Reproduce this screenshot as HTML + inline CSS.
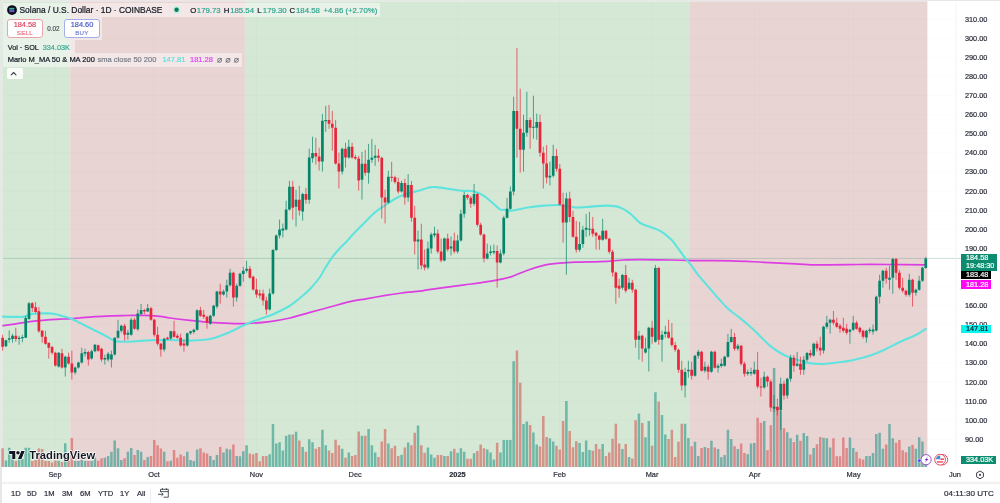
<!DOCTYPE html>
<html><head><meta charset="utf-8"><style>
*{box-sizing:border-box;margin:0;padding:0}
html,body{width:1000px;height:503px;overflow:hidden;background:#fff;font-family:"Liberation Sans",Arial,sans-serif;color:#131722}
.abs,.ohlc,.pl,.tl,.tb,.box{-webkit-text-stroke:0.2px currentColor}
#wrap{position:absolute;left:0;top:0;width:1000px;height:503px;background:#fff}
svg{position:absolute;left:0;top:0}
.pl{position:absolute;left:965px;font-size:7.3px;line-height:9px;color:#2a2e39;white-space:nowrap}
.tl{position:absolute;top:470.3px;font-size:7.4px;line-height:9px;color:#2a2e39;transform:translateX(-50%);white-space:nowrap}
.abs{position:absolute;white-space:nowrap}
.ohlc{position:absolute;top:5.9px;font-size:7.8px;line-height:9px;color:#2fa58e;white-space:nowrap}
.ind{top:55.3px;font-size:7.5px;line-height:9px;color:#131722}
.lg{position:absolute;background:rgba(255,255,255,0.45)}
.tb{position:absolute;top:489.4px;font-size:7.6px;line-height:9px;color:#2a2e39}
.box{position:absolute;left:961px;width:36px;color:#fff;font-size:7.3px;line-height:8.4px;padding-left:5px}
</style></head><body><div id="wrap">
<div class="abs" style="left:0;top:0;width:1000px;height:1.3px;background:#e6e7e6"></div>
<div class="abs" style="left:0;top:0;width:2.2px;height:503px;background:#e7e7e7"></div>
<svg width="1000" height="503" viewBox="0 0 1000 503">
<rect x="2.2" y="1.3" width="954" height="465.7" fill="#ffffff"/>
<rect x="2.2" y="1.3" width="68.01" height="465.7" fill="#d5e8d5"/>
<rect x="70.21" y="1.3" width="174.74" height="465.7" fill="#e9d4d4"/>
<rect x="244.94" y="1.3" width="445.08" height="465.7" fill="#d5e8d5"/>
<rect x="690.02" y="1.3" width="237.38" height="465.7" fill="#e9d4d4"/>
<path d="M3 439.30H956 M3 420.20H956 M3 401.10H956 M3 382.00H956 M3 362.90H956 M3 343.80H956 M3 324.70H956 M3 305.60H956 M3 286.50H956 M3 267.40H956 M3 248.30H956 M3 229.20H956 M3 210.10H956 M3 191.00H956 M3 171.90H956 M3 152.80H956 M3 133.70H956 M3 114.60H956 M3 95.50H956 M3 76.40H956 M3 57.30H956 M3 38.20H956 M3 19.10H956 M55.00 2V467 M154.00 2V467 M256.40 2V467 M355.20 2V467 M457.40 2V467 M559.50 2V467 M652.00 2V467 M754.60 2V467 M853.60 2V467" stroke="rgba(42,46,57,0.026)" stroke-width="0.7" fill="none"/>
<path d="M4.67 460.60h2.5V467h-2.5ZM7.96 447.80h2.5V467h-2.5ZM11.26 452.00h2.5V467h-2.5ZM17.85 458.00h2.5V467h-2.5ZM21.15 459.00h2.5V467h-2.5ZM24.45 447.80h2.5V467h-2.5ZM27.74 447.80h2.5V467h-2.5ZM57.42 460.80h2.5V467h-2.5ZM64.01 443.20h2.5V467h-2.5ZM73.90 461.00h2.5V467h-2.5ZM77.20 461.00h2.5V467h-2.5ZM80.50 460.00h2.5V467h-2.5ZM83.79 461.00h2.5V467h-2.5ZM90.39 461.00h2.5V467h-2.5ZM93.68 457.70h2.5V467h-2.5ZM103.57 457.70h2.5V467h-2.5ZM106.87 455.90h2.5V467h-2.5ZM110.17 451.80h2.5V467h-2.5ZM113.46 440.40h2.5V467h-2.5ZM116.76 448.20h2.5V467h-2.5ZM120.06 460.10h2.5V467h-2.5ZM126.65 451.80h2.5V467h-2.5ZM129.95 447.90h2.5V467h-2.5ZM136.54 450.00h2.5V467h-2.5ZM139.84 451.80h2.5V467h-2.5ZM146.43 457.10h2.5V467h-2.5ZM162.92 451.80h2.5V467h-2.5ZM169.51 460.70h2.5V467h-2.5ZM186.00 451.80h2.5V467h-2.5ZM189.29 460.00h2.5V467h-2.5ZM192.59 461.00h2.5V467h-2.5ZM195.89 449.40h2.5V467h-2.5ZM209.07 455.90h2.5V467h-2.5ZM212.37 460.10h2.5V467h-2.5ZM215.67 455.10h2.5V467h-2.5ZM222.26 452.40h2.5V467h-2.5ZM225.56 448.80h2.5V467h-2.5ZM228.86 449.40h2.5V467h-2.5ZM235.45 455.90h2.5V467h-2.5ZM238.75 456.30h2.5V467h-2.5ZM242.04 451.20h2.5V467h-2.5ZM245.34 445.20h2.5V467h-2.5ZM268.42 454.20h2.5V467h-2.5ZM271.72 424.10h2.5V467h-2.5ZM275.01 443.40h2.5V467h-2.5ZM278.31 442.20h2.5V467h-2.5ZM281.61 450.60h2.5V467h-2.5ZM284.90 435.70h2.5V467h-2.5ZM288.20 434.50h2.5V467h-2.5ZM294.79 431.70h2.5V467h-2.5ZM301.39 447.00h2.5V467h-2.5ZM307.98 439.20h2.5V467h-2.5ZM311.28 442.20h2.5V467h-2.5ZM321.17 429.70h2.5V467h-2.5ZM324.47 445.20h2.5V467h-2.5ZM340.95 448.80h2.5V467h-2.5ZM347.54 452.40h2.5V467h-2.5ZM360.73 435.70h2.5V467h-2.5ZM367.33 429.10h2.5V467h-2.5ZM370.62 445.20h2.5V467h-2.5ZM373.92 452.40h2.5V467h-2.5ZM387.11 443.40h2.5V467h-2.5ZM400.29 454.70h2.5V467h-2.5ZM406.89 442.50h2.5V467h-2.5ZM416.78 425.50h2.5V467h-2.5ZM426.67 447.60h2.5V467h-2.5ZM429.97 454.40h2.5V467h-2.5ZM433.26 457.70h2.5V467h-2.5ZM443.15 455.90h2.5V467h-2.5ZM449.75 451.20h2.5V467h-2.5ZM456.34 452.70h2.5V467h-2.5ZM459.64 448.20h2.5V467h-2.5ZM462.94 451.80h2.5V467h-2.5ZM472.83 453.20h2.5V467h-2.5ZM486.01 449.50h2.5V467h-2.5ZM489.31 452.50h2.5V467h-2.5ZM492.61 459.40h2.5V467h-2.5ZM499.20 452.50h2.5V467h-2.5ZM502.50 440.00h2.5V467h-2.5ZM505.80 440.00h2.5V467h-2.5ZM509.09 440.00h2.5V467h-2.5ZM512.39 361.20h2.5V467h-2.5ZM522.28 424.10h2.5V467h-2.5ZM525.58 421.60h2.5V467h-2.5ZM532.17 432.60h2.5V467h-2.5ZM535.47 444.50h2.5V467h-2.5ZM548.65 438.30h2.5V467h-2.5ZM551.95 441.50h2.5V467h-2.5ZM565.14 401.00h2.5V467h-2.5ZM578.33 443.00h2.5V467h-2.5ZM581.62 451.90h2.5V467h-2.5ZM584.92 440.50h2.5V467h-2.5ZM588.22 450.10h2.5V467h-2.5ZM601.41 443.90h2.5V467h-2.5ZM621.19 448.90h2.5V467h-2.5ZM627.78 456.90h2.5V467h-2.5ZM637.67 413.60h2.5V467h-2.5ZM644.27 437.20h2.5V467h-2.5ZM647.56 421.10h2.5V467h-2.5ZM654.16 392.20h2.5V467h-2.5ZM660.75 414.90h2.5V467h-2.5ZM664.05 434.60h2.5V467h-2.5ZM683.83 423.80h2.5V467h-2.5ZM687.12 438.10h2.5V467h-2.5ZM693.72 441.70h2.5V467h-2.5ZM697.02 456.00h2.5V467h-2.5ZM703.61 447.10h2.5V467h-2.5ZM710.20 440.80h2.5V467h-2.5ZM716.80 448.90h2.5V467h-2.5ZM720.09 457.30h2.5V467h-2.5ZM723.39 455.10h2.5V467h-2.5ZM726.69 429.70h2.5V467h-2.5ZM729.98 439.00h2.5V467h-2.5ZM736.58 448.90h2.5V467h-2.5ZM746.47 454.20h2.5V467h-2.5ZM749.77 443.50h2.5V467h-2.5ZM753.06 443.00h2.5V467h-2.5ZM762.95 421.00h2.5V467h-2.5ZM772.84 367.90h2.5V467h-2.5ZM779.44 410.90h2.5V467h-2.5ZM786.03 432.30h2.5V467h-2.5ZM789.33 438.30h2.5V467h-2.5ZM795.92 434.70h2.5V467h-2.5ZM802.52 433.10h2.5V467h-2.5ZM805.81 435.90h2.5V467h-2.5ZM812.41 447.90h2.5V467h-2.5ZM822.30 437.80h2.5V467h-2.5ZM825.59 438.30h2.5V467h-2.5ZM828.89 447.40h2.5V467h-2.5ZM848.67 437.50h2.5V467h-2.5ZM851.97 448.00h2.5V467h-2.5ZM865.16 455.90h2.5V467h-2.5ZM868.45 455.90h2.5V467h-2.5ZM871.75 453.10h2.5V467h-2.5ZM875.05 434.10h2.5V467h-2.5ZM878.35 432.70h2.5V467h-2.5ZM881.64 448.70h2.5V467h-2.5ZM888.24 423.90h2.5V467h-2.5ZM891.53 438.20h2.5V467h-2.5ZM908.02 446.60h2.5V467h-2.5ZM914.61 448.70h2.5V467h-2.5ZM917.91 437.30h2.5V467h-2.5ZM921.20 441.40h2.5V467h-2.5ZM924.50 458.00h2.5V467h-2.5Z" fill="rgba(6,136,122,0.5)"/>
<path d="M1.37 448.30h2.5V467h-2.5ZM14.56 461.00h2.5V467h-2.5ZM31.04 461.00h2.5V467h-2.5ZM34.34 460.00h2.5V467h-2.5ZM37.64 448.50h2.5V467h-2.5ZM40.93 449.00h2.5V467h-2.5ZM44.23 461.00h2.5V467h-2.5ZM47.53 461.00h2.5V467h-2.5ZM50.82 462.50h2.5V467h-2.5ZM54.12 460.50h2.5V467h-2.5ZM60.71 462.00h2.5V467h-2.5ZM67.31 461.00h2.5V467h-2.5ZM70.60 438.00h2.5V467h-2.5ZM87.09 461.00h2.5V467h-2.5ZM96.98 460.70h2.5V467h-2.5ZM100.28 458.30h2.5V467h-2.5ZM123.35 458.30h2.5V467h-2.5ZM133.25 455.10h2.5V467h-2.5ZM143.14 460.10h2.5V467h-2.5ZM149.73 455.90h2.5V467h-2.5ZM153.03 440.10h2.5V467h-2.5ZM156.32 445.20h2.5V467h-2.5ZM159.62 448.40h2.5V467h-2.5ZM166.21 461.30h2.5V467h-2.5ZM172.81 450.00h2.5V467h-2.5ZM176.11 457.70h2.5V467h-2.5ZM179.40 454.40h2.5V467h-2.5ZM182.70 456.30h2.5V467h-2.5ZM199.18 448.20h2.5V467h-2.5ZM202.48 452.40h2.5V467h-2.5ZM205.78 453.60h2.5V467h-2.5ZM218.97 447.00h2.5V467h-2.5ZM232.15 444.60h2.5V467h-2.5ZM248.64 453.60h2.5V467h-2.5ZM251.93 454.20h2.5V467h-2.5ZM255.23 453.00h2.5V467h-2.5ZM258.53 461.30h2.5V467h-2.5ZM261.82 455.90h2.5V467h-2.5ZM265.12 455.90h2.5V467h-2.5ZM291.50 434.50h2.5V467h-2.5ZM298.09 440.40h2.5V467h-2.5ZM304.68 451.80h2.5V467h-2.5ZM314.58 448.80h2.5V467h-2.5ZM317.87 447.00h2.5V467h-2.5ZM327.76 450.60h2.5V467h-2.5ZM331.06 453.00h2.5V467h-2.5ZM334.36 439.80h2.5V467h-2.5ZM337.65 445.20h2.5V467h-2.5ZM344.25 457.70h2.5V467h-2.5ZM350.84 455.90h2.5V467h-2.5ZM354.14 455.10h2.5V467h-2.5ZM357.43 431.50h2.5V467h-2.5ZM364.03 435.70h2.5V467h-2.5ZM377.22 457.10h2.5V467h-2.5ZM380.51 441.60h2.5V467h-2.5ZM383.81 429.10h2.5V467h-2.5ZM390.40 448.20h2.5V467h-2.5ZM393.70 445.80h2.5V467h-2.5ZM397.00 455.90h2.5V467h-2.5ZM403.59 447.60h2.5V467h-2.5ZM410.19 445.20h2.5V467h-2.5ZM413.48 432.70h2.5V467h-2.5ZM420.08 445.20h2.5V467h-2.5ZM423.37 452.70h2.5V467h-2.5ZM436.56 455.10h2.5V467h-2.5ZM439.86 455.10h2.5V467h-2.5ZM446.45 455.90h2.5V467h-2.5ZM453.04 448.80h2.5V467h-2.5ZM466.23 458.70h2.5V467h-2.5ZM469.53 458.70h2.5V467h-2.5ZM476.12 451.00h2.5V467h-2.5ZM479.42 444.50h2.5V467h-2.5ZM482.72 448.20h2.5V467h-2.5ZM495.90 442.80h2.5V467h-2.5ZM515.69 350.50h2.5V467h-2.5ZM518.98 382.80h2.5V467h-2.5ZM528.87 425.10h2.5V467h-2.5ZM538.76 446.50h2.5V467h-2.5ZM542.06 415.90h2.5V467h-2.5ZM545.36 437.00h2.5V467h-2.5ZM555.25 445.70h2.5V467h-2.5ZM558.55 449.50h2.5V467h-2.5ZM561.84 420.90h2.5V467h-2.5ZM568.44 431.00h2.5V467h-2.5ZM571.73 447.30h2.5V467h-2.5ZM575.03 441.20h2.5V467h-2.5ZM591.51 450.70h2.5V467h-2.5ZM594.81 443.90h2.5V467h-2.5ZM598.11 448.90h2.5V467h-2.5ZM604.70 456.00h2.5V467h-2.5ZM608.00 452.50h2.5V467h-2.5ZM611.30 438.70h2.5V467h-2.5ZM614.59 423.80h2.5V467h-2.5ZM617.89 443.50h2.5V467h-2.5ZM624.48 443.90h2.5V467h-2.5ZM631.08 458.40h2.5V467h-2.5ZM634.37 420.30h2.5V467h-2.5ZM640.97 422.90h2.5V467h-2.5ZM650.86 445.80h2.5V467h-2.5ZM657.45 401.50h2.5V467h-2.5ZM667.34 439.00h2.5V467h-2.5ZM670.64 429.70h2.5V467h-2.5ZM673.94 456.90h2.5V467h-2.5ZM677.23 441.70h2.5V467h-2.5ZM680.53 423.80h2.5V467h-2.5ZM690.42 446.20h2.5V467h-2.5ZM700.31 448.00h2.5V467h-2.5ZM706.91 448.00h2.5V467h-2.5ZM713.50 447.60h2.5V467h-2.5ZM733.28 446.20h2.5V467h-2.5ZM739.88 443.50h2.5V467h-2.5ZM743.17 453.00h2.5V467h-2.5ZM756.36 417.80h2.5V467h-2.5ZM759.66 422.70h2.5V467h-2.5ZM766.25 450.20h2.5V467h-2.5ZM769.55 425.20h2.5V467h-2.5ZM776.14 407.30h2.5V467h-2.5ZM782.73 428.30h2.5V467h-2.5ZM792.63 441.90h2.5V467h-2.5ZM799.22 440.70h2.5V467h-2.5ZM809.11 454.50h2.5V467h-2.5ZM815.70 444.30h2.5V467h-2.5ZM819.00 437.10h2.5V467h-2.5ZM832.19 438.30h2.5V467h-2.5ZM835.49 456.20h2.5V467h-2.5ZM838.78 456.20h2.5V467h-2.5ZM842.08 437.50h2.5V467h-2.5ZM845.38 448.00h2.5V467h-2.5ZM855.27 451.70h2.5V467h-2.5ZM858.56 458.40h2.5V467h-2.5ZM861.86 459.50h2.5V467h-2.5ZM884.94 444.50h2.5V467h-2.5ZM894.83 442.80h2.5V467h-2.5ZM898.13 440.10h2.5V467h-2.5ZM901.42 450.30h2.5V467h-2.5ZM904.72 452.20h2.5V467h-2.5ZM911.31 444.80h2.5V467h-2.5Z" fill="rgba(212,62,60,0.5)"/>
<line x1="3" y1="258.4" x2="961" y2="258.4" stroke="rgba(60,140,120,0.4)" stroke-width="0.7"/>
<path d="M3.0 325.7 C5.2 325.4 11.2 324.5 16.0 323.8 C20.8 323.1 26.7 322.1 32.0 321.4 C37.3 320.7 42.7 320.2 48.0 319.8 C53.3 319.4 60.0 319.2 64.0 319.0 C68.0 318.8 69.3 318.9 72.0 318.7 C74.7 318.5 76.0 318.2 80.0 317.9 C84.0 317.5 90.7 317.0 96.0 316.6 C101.3 316.2 106.7 316.0 112.0 315.8 C117.3 315.6 122.7 315.6 128.0 315.5 C133.3 315.4 138.7 315.2 144.0 315.3 C149.3 315.4 155.7 315.9 160.0 316.3 C164.3 316.8 165.0 317.3 170.0 318.0 C175.0 318.7 183.3 319.7 190.0 320.4 C196.7 321.1 203.3 321.9 210.0 322.4 C216.7 322.9 224.0 323.2 230.0 323.4 C236.0 323.6 239.3 323.9 246.0 323.6 C252.7 323.3 262.7 322.5 270.0 321.6 C277.3 320.7 283.3 319.5 290.0 318.0 C296.7 316.5 303.3 314.2 310.0 312.4 C316.7 310.6 323.3 308.8 330.0 307.0 C336.7 305.2 344.0 303.0 350.0 301.6 C356.0 300.2 360.3 299.8 366.0 298.8 C371.7 297.8 378.0 296.7 384.0 295.7 C390.0 294.7 396.0 293.8 402.0 293.0 C408.0 292.2 415.2 291.8 420.0 291.2 C424.8 290.6 423.7 290.3 430.8 289.3 C437.9 288.3 454.4 286.2 462.6 285.1 C470.8 284.0 473.9 283.8 480.0 282.9 C486.1 282.0 493.7 280.8 499.0 279.7 C504.3 278.6 507.0 278.2 511.8 276.6 C516.6 275.0 522.4 272.1 527.7 270.2 C533.0 268.3 538.3 266.6 543.6 265.4 C548.9 264.2 554.2 263.7 559.5 263.2 C564.8 262.7 567.4 262.5 575.4 262.2 C583.4 261.9 599.2 261.7 607.2 261.3 C615.2 260.9 617.8 260.3 623.1 260.0 C628.4 259.7 631.0 259.7 639.0 259.7 C647.0 259.7 660.6 259.9 670.8 260.0 C681.0 260.1 689.8 260.5 700.0 260.6 C710.2 260.7 721.2 260.5 731.8 260.8 C742.4 261.1 753.0 261.8 763.6 262.3 C774.2 262.8 787.5 263.5 795.4 263.9 C803.3 264.3 806.0 264.6 811.3 264.8 C816.6 265.0 819.2 264.9 827.2 264.8 C835.2 264.8 848.4 264.6 859.0 264.5 C869.6 264.4 879.7 264.4 890.8 264.5 C901.9 264.6 920.0 264.8 925.8 264.9" stroke="#dc3ee2" stroke-width="1.7" fill="none" stroke-linejoin="round" stroke-linecap="round"/>
<path d="M3.0 316.6 C5.2 316.7 12.5 316.9 16.0 316.9 C19.5 316.9 21.3 317.1 24.0 316.6 C26.7 316.1 29.3 314.4 32.0 313.9 C34.7 313.4 37.3 313.5 40.0 313.4 C42.7 313.3 45.3 313.3 48.0 313.4 C50.7 313.5 53.3 313.7 56.0 314.2 C58.7 314.7 61.3 315.8 64.0 316.6 C66.7 317.4 69.3 317.9 72.0 319.0 C74.7 320.1 77.3 321.7 80.0 323.0 C82.7 324.3 85.3 325.7 88.0 327.0 C90.7 328.3 93.3 329.7 96.0 331.0 C98.7 332.3 101.3 333.6 104.0 335.0 C106.7 336.4 109.9 338.4 112.0 339.5 C114.1 340.6 114.1 341.0 116.8 341.4 C119.5 341.8 123.5 341.8 128.0 341.7 C132.5 341.6 139.7 340.9 144.0 340.6 C148.3 340.3 149.3 340.2 153.6 340.1 C157.9 340.0 163.9 339.9 170.0 340.0 C176.1 340.1 183.3 340.8 190.0 340.6 C196.7 340.4 203.3 340.4 210.0 339.0 C216.7 337.6 225.0 334.0 230.0 332.0 C235.0 330.0 236.7 328.6 240.0 327.0 C243.3 325.4 246.7 323.7 250.0 322.4 C253.3 321.1 256.7 320.1 260.0 319.0 C263.3 317.9 266.7 316.9 270.0 315.6 C273.3 314.3 276.7 312.7 280.0 311.0 C283.3 309.3 286.7 307.8 290.0 305.6 C293.3 303.4 296.7 300.8 300.0 298.0 C303.3 295.2 306.7 292.5 310.0 289.0 C313.3 285.5 317.7 280.2 320.0 277.0 C322.3 273.8 322.0 273.2 324.0 270.0 C326.0 266.8 329.4 261.3 331.8 257.9 C334.2 254.5 336.4 252.1 338.7 249.5 C341.0 246.9 343.8 244.5 345.7 242.5 C347.6 240.5 348.8 239.0 350.0 237.7 C351.2 236.4 350.5 236.8 352.8 234.5 C355.1 232.2 360.1 227.2 363.7 223.6 C367.3 219.9 371.0 215.7 374.7 212.6 C378.4 209.5 382.0 207.4 385.6 205.0 C389.2 202.6 392.9 199.9 396.5 198.0 C400.1 196.1 403.9 194.8 407.5 193.6 C411.1 192.4 414.8 191.8 418.4 190.8 C422.0 189.8 426.4 188.1 429.3 187.5 C432.2 186.9 432.2 186.8 435.9 187.1 C439.5 187.4 446.8 188.6 451.2 189.2 C455.6 189.8 458.5 190.5 462.1 190.8 C465.8 191.1 469.5 190.4 473.1 191.2 C476.8 192.0 480.4 193.5 484.0 195.8 C487.6 198.1 492.2 202.7 494.9 205.0 C497.6 207.3 498.2 208.6 500.0 209.4 C501.8 210.2 503.4 209.6 505.4 209.8 C507.4 210.0 508.1 211.1 511.8 210.7 C515.5 210.3 522.4 208.3 527.7 207.5 C533.0 206.7 538.3 206.0 543.6 205.6 C548.9 205.2 554.2 204.7 559.5 205.0 C564.8 205.3 570.1 207.2 575.4 207.5 C580.7 207.8 586.0 206.9 591.3 206.6 C596.6 206.3 602.4 205.5 607.2 205.6 C612.0 205.7 616.2 206.1 620.0 207.4 C623.8 208.7 626.7 210.9 630.1 213.5 C633.5 216.1 636.9 220.8 640.3 223.0 C643.7 225.2 647.0 225.7 650.4 227.0 C653.8 228.3 657.1 229.1 660.5 231.1 C663.9 233.1 667.9 236.2 670.7 238.9 C673.5 241.6 675.1 244.3 677.4 247.3 C679.6 250.3 682.0 253.9 684.2 256.8 C686.5 259.7 688.6 262.0 690.9 264.9 C693.1 267.8 694.9 270.8 697.7 274.3 C700.5 277.8 704.4 282.2 707.8 286.1 C711.2 290.1 714.6 294.2 718.0 298.0 C721.4 301.8 724.7 305.7 728.1 308.8 C731.5 311.9 734.8 313.9 738.2 316.6 C741.6 319.3 745.0 322.0 748.4 325.0 C751.8 328.0 755.1 331.2 758.5 334.5 C761.9 337.8 765.2 341.7 768.6 344.6 C772.0 347.5 775.4 349.9 778.8 352.0 C782.2 354.1 785.4 355.7 788.9 357.1 C792.4 358.5 797.3 359.6 800.0 360.5 C802.7 361.4 801.5 361.9 805.0 362.5 C808.5 363.1 815.6 364.0 820.9 364.0 C826.2 364.0 831.5 363.1 836.8 362.5 C842.1 361.9 847.4 361.3 852.7 360.2 C858.0 359.1 863.3 357.9 868.6 356.1 C873.9 354.4 879.2 352.1 884.5 349.7 C889.8 347.3 895.1 344.3 900.4 341.8 C905.7 339.3 912.1 336.9 916.3 334.8 C920.5 332.7 924.2 330.0 925.8 329.0" stroke="#5fe3de" stroke-width="2.1" fill="none" stroke-linejoin="round" stroke-linecap="round"/>
<path d="M5.92 339.70V347.10M9.21 330.40V342.70M12.51 333.80V342.70M19.10 335.80V344.70M22.40 334.80V342.30M25.70 315.90V337.70M28.99 302.00V319.90M58.67 352.00V367.60M65.26 355.70V376.50M75.15 366.60V374.60M78.45 361.60V368.60M81.75 347.70V363.60M85.04 348.70V356.70M91.64 349.70V359.60M94.93 344.10V352.10M104.82 354.70V364.60M108.12 352.00V361.60M111.42 350.60V367.50M114.71 337.30V355.60M118.01 319.80V338.70M121.31 324.80V332.70M127.90 329.80V339.70M131.20 317.80V335.70M137.79 309.40V330.80M141.09 303.90V314.90M147.68 303.90V311.90M164.17 337.70V351.60M170.76 330.70V339.60M187.25 332.70V346.60M190.54 330.70V334.70M193.84 328.70V333.70M197.14 309.40V330.70M210.32 314.80V324.70M213.62 304.80V316.80M216.92 290.90V308.50M223.51 289.60V295.60M226.81 279.70V297.60M230.11 268.80V286.70M236.70 283.70V301.60M240.00 272.70V286.70M243.29 266.80V281.70M246.59 260.80V272.70M269.67 288.60V310.50M272.97 248.90V294.60M276.26 234.50V251.00M279.56 219.60V238.50M282.86 223.60V237.50M286.15 200.70V230.50M289.45 180.80V210.60M296.04 189.80V226.50M302.64 192.70V220.60M309.23 148.70V203.70M312.53 136.70V162.60M322.42 113.90V171.50M325.72 105.90V131.80M342.20 147.70V174.50M348.79 139.70V158.60M361.98 151.90V199.60M368.58 143.90V183.70M371.87 138.90V162.80M375.17 144.90V165.80M388.36 170.70V203.60M401.54 180.70V192.60M408.14 174.00V201.80M418.03 230.60V269.40M427.92 241.60V269.40M431.22 232.60V253.50M434.51 226.70V237.60M444.40 237.60V261.50M451.00 236.60V255.50M457.59 235.00V253.50M460.89 209.80V241.60M464.19 191.90V217.70M474.08 183.90V205.80M487.26 243.60V259.50M490.56 245.50V255.50M493.86 244.50V254.50M500.45 249.50V263.40M503.75 215.70V255.50M507.05 197.80V218.70M510.34 186.50V209.80M513.64 96.70V195.40M523.53 114.60V171.60M526.83 91.70V136.80M533.42 95.70V138.80M536.72 113.60V139.80M549.90 161.70V185.50M553.20 144.70V177.50M566.39 192.70V274.60M579.58 221.90V251.70M582.87 225.80V247.70M586.17 213.90V236.80M589.47 211.90V235.80M602.66 218.90V240.80M622.44 273.90V289.80M629.03 277.80V289.80M638.92 330.80V359.60M645.52 337.70V353.60M648.81 326.80V371.50M655.41 264.90V342.70M662.00 330.70V361.60M665.30 325.80V337.70M685.08 367.70V397.50M688.37 360.80V377.70M694.97 354.80V376.70M698.27 349.80V358.80M704.86 361.70V372.70M711.45 350.80V372.70M718.05 363.70V372.70M721.34 358.80V367.70M724.64 355.80V366.70M727.94 333.90V357.80M731.23 328.90V342.90M737.83 343.90V350.80M747.72 369.70V375.70M751.02 367.70V375.70M754.31 361.70V374.70M764.20 371.70V388.60M774.09 395.00V412.00M780.69 377.70V430.00M787.28 377.70V398.60M790.58 354.80V381.70M797.17 351.90V366.80M803.77 355.80V374.70M807.06 351.90V361.80M813.66 342.70V356.60M823.55 325.80V353.60M826.84 315.80V328.80M830.14 318.80V333.70M849.92 328.80V343.70M853.22 315.80V330.80M866.41 329.80V342.70M869.70 327.50V333.50M873.00 324.50V334.50M876.30 295.70V331.50M879.60 274.80V303.60M882.89 269.80V287.70M889.49 265.80V289.70M892.78 257.90V293.70M909.27 273.80V296.70M915.86 288.70V295.70M919.16 275.80V290.70M922.45 266.80V281.80M925.75 256.80V268.70" stroke="#06846a" stroke-width="0.7" fill="none"/>
<path d="M4.57 340.30h2.7v6.00h-2.7ZM7.86 338.30h2.7v1.40h-2.7ZM11.16 335.80h2.7v3.30h-2.7ZM17.75 337.70h2.7v1.40h-2.7ZM21.05 337.10h2.7v1.20h-2.7ZM24.35 317.90h2.7v19.80h-2.7ZM27.64 303.30h2.7v15.60h-2.7ZM57.32 352.70h2.7v13.90h-2.7ZM63.91 356.70h2.7v10.90h-2.7ZM73.80 367.60h2.7v5.00h-2.7ZM77.10 362.60h2.7v5.00h-2.7ZM80.40 353.30h2.7v9.30h-2.7ZM83.69 352.00h2.7v1.70h-2.7ZM90.29 351.30h2.7v7.30h-2.7ZM93.58 344.70h2.7v6.60h-2.7ZM103.47 358.00h2.7v1.60h-2.7ZM106.77 353.70h2.7v5.90h-2.7ZM110.07 354.60h2.7v5.00h-2.7ZM113.36 337.70h2.7v16.90h-2.7ZM116.66 330.80h2.7v6.90h-2.7ZM119.96 325.80h2.7v5.00h-2.7ZM126.55 332.70h2.7v2.00h-2.7ZM129.85 319.80h2.7v14.90h-2.7ZM136.44 313.50h2.7v15.80h-2.7ZM139.74 309.90h2.7v4.00h-2.7ZM146.33 308.30h2.7v3.20h-2.7ZM162.82 338.70h2.7v10.90h-2.7ZM169.41 331.30h2.7v7.30h-2.7ZM185.90 333.30h2.7v12.30h-2.7ZM189.19 331.30h2.7v2.00h-2.7ZM192.49 329.70h2.7v2.40h-2.7ZM195.79 310.20h2.7v19.50h-2.7ZM208.97 315.80h2.7v7.90h-2.7ZM212.27 305.80h2.7v10.00h-2.7ZM215.57 291.60h2.7v14.90h-2.7ZM222.16 291.60h2.7v3.00h-2.7ZM225.46 285.30h2.7v6.30h-2.7ZM228.76 272.70h2.7v12.60h-2.7ZM235.35 285.70h2.7v11.90h-2.7ZM238.65 273.70h2.7v12.00h-2.7ZM241.94 270.80h2.7v3.30h-2.7ZM245.24 268.80h2.7v2.00h-2.7ZM268.32 293.60h2.7v15.90h-2.7ZM271.62 249.90h2.7v43.70h-2.7ZM274.91 235.50h2.7v14.50h-2.7ZM278.21 229.50h2.7v6.00h-2.7ZM281.51 228.50h2.7v2.00h-2.7ZM284.80 209.60h2.7v19.90h-2.7ZM288.10 186.80h2.7v22.80h-2.7ZM294.69 199.70h2.7v7.00h-2.7ZM301.29 194.10h2.7v17.50h-2.7ZM307.88 157.60h2.7v42.10h-2.7ZM311.18 153.00h2.7v5.20h-2.7ZM321.07 120.80h2.7v40.80h-2.7ZM324.37 119.90h2.7v1.30h-2.7ZM340.85 148.70h2.7v22.80h-2.7ZM347.44 146.70h2.7v10.90h-2.7ZM360.63 163.80h2.7v15.90h-2.7ZM367.23 159.80h2.7v12.90h-2.7ZM370.52 157.80h2.7v2.00h-2.7ZM373.82 155.80h2.7v2.00h-2.7ZM387.01 176.70h2.7v25.90h-2.7ZM400.19 182.90h2.7v8.70h-2.7ZM406.79 184.90h2.7v12.70h-2.7ZM416.68 239.60h2.7v2.00h-2.7ZM426.57 248.50h2.7v18.90h-2.7ZM429.87 234.60h2.7v13.90h-2.7ZM433.16 233.60h2.7v1.60h-2.7ZM443.05 238.60h2.7v21.90h-2.7ZM449.65 246.50h2.7v2.00h-2.7ZM456.24 240.60h2.7v10.90h-2.7ZM459.54 213.70h2.7v26.90h-2.7ZM462.84 194.90h2.7v18.80h-2.7ZM472.73 193.90h2.7v9.90h-2.7ZM485.91 253.50h2.7v5.00h-2.7ZM489.21 251.50h2.7v1.60h-2.7ZM492.51 251.10h2.7v1.40h-2.7ZM499.10 253.50h2.7v8.90h-2.7ZM502.40 217.70h2.7v35.80h-2.7ZM505.70 208.80h2.7v8.90h-2.7ZM508.99 191.50h2.7v17.30h-2.7ZM512.29 110.90h2.7v80.60h-2.7ZM522.18 132.80h2.7v16.90h-2.7ZM525.48 119.90h2.7v12.90h-2.7ZM532.07 126.80h2.7v1.00h-2.7ZM535.37 121.90h2.7v5.90h-2.7ZM548.55 175.80h2.7v1.60h-2.7ZM551.85 155.90h2.7v19.90h-2.7ZM565.04 198.60h2.7v23.90h-2.7ZM578.23 244.10h2.7v5.60h-2.7ZM581.52 229.80h2.7v14.30h-2.7ZM584.82 227.80h2.7v2.00h-2.7ZM588.12 228.80h2.7v1.00h-2.7ZM601.31 230.80h2.7v9.00h-2.7ZM621.09 274.90h2.7v12.90h-2.7ZM627.68 282.80h2.7v6.00h-2.7ZM637.57 335.70h2.7v4.00h-2.7ZM644.17 348.60h2.7v4.00h-2.7ZM647.46 327.80h2.7v20.80h-2.7ZM654.06 267.90h2.7v73.80h-2.7ZM660.65 334.70h2.7v5.00h-2.7ZM663.95 331.70h2.7v2.40h-2.7ZM683.73 372.10h2.7v13.50h-2.7ZM687.02 369.70h2.7v1.60h-2.7ZM693.62 355.80h2.7v19.90h-2.7ZM696.92 351.80h2.7v4.00h-2.7ZM703.51 366.70h2.7v4.00h-2.7ZM710.10 351.80h2.7v19.90h-2.7ZM716.70 365.70h2.7v2.00h-2.7ZM719.99 363.70h2.7v2.40h-2.7ZM723.29 356.80h2.7v8.90h-2.7ZM726.59 341.90h2.7v14.90h-2.7ZM729.88 336.90h2.7v5.00h-2.7ZM736.48 345.80h2.7v3.00h-2.7ZM746.37 372.10h2.7v1.60h-2.7ZM749.67 372.00h2.7v1.50h-2.7ZM752.96 369.70h2.7v4.00h-2.7ZM762.85 376.70h2.7v10.90h-2.7ZM772.74 406.70h2.7v2.00h-2.7ZM779.34 383.70h2.7v26.60h-2.7ZM785.93 378.70h2.7v16.90h-2.7ZM789.23 357.80h2.7v20.90h-2.7ZM795.82 363.80h2.7v2.00h-2.7ZM802.42 359.80h2.7v10.00h-2.7ZM805.71 352.90h2.7v6.90h-2.7ZM812.31 343.70h2.7v11.70h-2.7ZM822.20 326.80h2.7v23.80h-2.7ZM825.49 322.80h2.7v4.00h-2.7ZM828.79 319.80h2.7v3.00h-2.7ZM848.57 329.80h2.7v1.90h-2.7ZM851.87 322.80h2.7v7.00h-2.7ZM865.06 330.80h2.7v6.60h-2.7ZM868.35 329.80h2.7v1.20h-2.7ZM871.65 329.50h2.7v2.00h-2.7ZM874.95 296.70h2.7v33.80h-2.7ZM878.25 280.80h2.7v15.90h-2.7ZM881.54 270.80h2.7v10.00h-2.7ZM888.14 277.80h2.7v2.00h-2.7ZM891.43 258.90h2.7v18.90h-2.7ZM907.92 279.80h2.7v14.90h-2.7ZM914.51 289.70h2.7v3.00h-2.7ZM917.81 280.80h2.7v8.90h-2.7ZM921.10 267.80h2.7v13.00h-2.7ZM924.40 258.60h2.7v9.30h-2.7Z" fill="#06846a"/>
<path d="M2.62 334.80V350.70M15.81 327.80V341.70M32.29 302.00V311.90M35.59 302.00V312.90M38.89 306.90V332.80M42.18 329.80V342.70M45.48 330.80V344.70M48.78 342.70V358.60M52.07 345.70V354.60M55.37 351.70V366.60M61.96 348.70V368.60M68.56 352.70V364.60M71.85 350.70V379.50M88.34 350.70V365.60M98.23 344.70V351.70M101.53 347.70V361.60M124.60 323.80V340.70M134.50 317.80V329.80M144.39 308.90V313.90M150.98 306.90V320.80M154.28 318.80V336.70M157.57 326.80V345.70M160.87 342.70V356.60M167.46 336.70V339.60M174.06 320.80V337.70M177.36 333.70V338.70M180.65 333.70V346.60M183.95 339.60V351.60M200.43 306.80V316.80M203.73 309.80V318.80M207.03 315.80V328.70M220.22 283.70V303.60M233.40 271.70V306.50M249.89 265.80V278.70M253.18 275.70V290.60M256.48 278.70V297.60M259.78 289.60V298.60M263.07 289.60V305.50M266.37 296.60V314.50M292.75 180.80V219.60M299.34 185.80V215.60M305.93 187.80V203.70M315.83 137.70V164.60M319.12 147.70V170.50M329.01 104.90V128.80M332.31 110.90V150.70M335.61 119.90V164.60M338.90 152.70V188.40M345.50 142.70V167.60M352.09 142.70V158.60M355.39 154.70V159.80M358.68 155.80V190.60M365.28 149.90V175.70M378.47 148.90V161.80M381.76 156.80V218.50M385.06 189.60V223.40M391.65 161.80V181.70M394.95 175.70V183.70M398.25 177.70V193.60M404.84 178.70V204.60M411.44 180.90V221.70M414.73 205.80V254.50M421.33 223.70V269.40M424.62 249.50V270.40M437.81 229.60V253.50M441.11 238.60V262.40M447.70 233.60V251.50M454.29 232.60V253.50M467.48 193.90V199.80M470.78 195.80V207.80M477.37 192.90V226.70M480.67 222.70V235.60M483.97 233.60V262.40M497.15 245.50V287.70M516.94 48.00V157.70M520.23 88.70V172.60M530.12 117.50V148.70M540.01 114.60V156.70M543.31 146.70V188.50M546.61 145.00V183.50M556.50 148.90V171.60M559.80 163.90V205.60M563.09 192.70V242.70M569.69 191.70V221.90M572.98 210.90V237.80M576.28 220.90V252.70M592.76 216.90V236.80M596.06 231.80V249.70M599.36 234.80V249.70M605.95 229.80V239.80M609.25 237.80V253.70M612.55 249.70V276.60M615.84 271.60V303.70M619.14 278.80V297.70M625.73 264.90V292.70M632.33 279.80V292.70M635.62 288.80V347.70M642.22 334.70V361.60M652.11 320.80V343.70M658.70 266.90V344.70M668.59 319.80V338.70M671.89 323.00V346.80M675.19 341.90V351.80M678.48 348.80V372.70M681.78 360.80V390.60M691.67 361.70V379.60M701.56 350.80V371.70M708.16 364.70V379.60M714.75 350.80V368.70M734.53 332.90V350.80M741.13 344.90V365.70M744.42 361.70V376.70M757.61 351.80V388.60M760.91 377.70V396.50M767.50 375.70V386.60M770.80 379.60V411.50M777.39 398.60V415.50M783.98 380.70V399.60M793.88 354.80V371.80M800.47 356.80V374.80M810.36 349.90V357.80M816.95 340.70V351.60M820.25 336.70V355.60M833.44 310.90V324.80M836.74 317.80V327.80M840.03 323.80V332.70M843.33 317.80V332.70M846.63 323.80V334.70M856.52 320.80V329.80M859.81 326.80V333.70M863.11 329.80V338.70M886.19 267.80V283.70M896.08 257.90V279.80M899.38 269.80V289.70M902.67 277.80V292.70M905.97 289.70V296.70M912.56 278.80V306.60" stroke="#e8263b" stroke-width="0.7" fill="none"/>
<path d="M1.27 337.70h2.7v9.00h-2.7ZM14.46 335.80h2.7v3.30h-2.7ZM30.94 303.30h2.7v4.60h-2.7ZM34.24 307.30h2.7v4.60h-2.7ZM37.54 311.30h2.7v19.90h-2.7ZM40.83 330.80h2.7v5.90h-2.7ZM44.13 336.70h2.7v7.00h-2.7ZM47.43 342.70h2.7v5.00h-2.7ZM50.72 347.10h2.7v5.60h-2.7ZM54.02 352.70h2.7v12.90h-2.7ZM60.61 353.30h2.7v14.30h-2.7ZM67.21 356.70h2.7v6.90h-2.7ZM70.50 363.60h2.7v9.00h-2.7ZM86.99 352.00h2.7v7.60h-2.7ZM96.88 345.30h2.7v5.40h-2.7ZM100.18 348.70h2.7v10.90h-2.7ZM123.25 325.80h2.7v8.90h-2.7ZM133.15 319.80h2.7v9.00h-2.7ZM143.04 309.90h2.7v1.60h-2.7ZM149.63 308.30h2.7v11.50h-2.7ZM152.93 319.80h2.7v14.90h-2.7ZM156.22 334.70h2.7v9.00h-2.7ZM159.52 343.70h2.7v5.90h-2.7ZM166.11 337.70h2.7v1.50h-2.7ZM172.71 331.30h2.7v5.40h-2.7ZM176.01 335.70h2.7v2.00h-2.7ZM179.30 337.70h2.7v7.90h-2.7ZM182.60 343.60h2.7v2.00h-2.7ZM199.08 310.20h2.7v5.60h-2.7ZM202.38 314.80h2.7v2.00h-2.7ZM205.68 316.80h2.7v5.90h-2.7ZM218.87 291.60h2.7v3.00h-2.7ZM232.05 272.70h2.7v24.90h-2.7ZM248.54 268.80h2.7v8.90h-2.7ZM251.83 276.70h2.7v12.90h-2.7ZM255.13 289.60h2.7v5.00h-2.7ZM258.43 293.60h2.7v2.00h-2.7ZM261.72 293.60h2.7v7.00h-2.7ZM265.02 300.60h2.7v8.90h-2.7ZM291.40 186.80h2.7v20.90h-2.7ZM297.99 199.70h2.7v10.90h-2.7ZM304.58 194.10h2.7v5.60h-2.7ZM314.48 153.00h2.7v3.60h-2.7ZM317.77 156.60h2.7v5.00h-2.7ZM327.66 119.90h2.7v3.90h-2.7ZM330.96 123.80h2.7v4.00h-2.7ZM334.26 127.80h2.7v35.80h-2.7ZM337.55 163.60h2.7v7.90h-2.7ZM344.15 148.70h2.7v8.90h-2.7ZM350.74 146.70h2.7v10.90h-2.7ZM354.04 157.00h2.7v1.60h-2.7ZM357.33 158.60h2.7v21.90h-2.7ZM363.93 163.80h2.7v8.90h-2.7ZM377.12 155.80h2.7v2.00h-2.7ZM380.41 157.80h2.7v39.80h-2.7ZM383.71 197.60h2.7v5.00h-2.7ZM390.30 176.70h2.7v1.00h-2.7ZM393.60 177.30h2.7v4.80h-2.7ZM396.90 182.10h2.7v9.50h-2.7ZM403.49 182.90h2.7v14.70h-2.7ZM410.09 184.90h2.7v32.80h-2.7ZM413.38 217.70h2.7v23.90h-2.7ZM419.98 239.60h2.7v25.80h-2.7ZM423.27 264.40h2.7v3.00h-2.7ZM436.46 233.60h2.7v17.90h-2.7ZM439.76 251.50h2.7v9.00h-2.7ZM446.35 238.60h2.7v10.90h-2.7ZM452.94 240.60h2.7v10.90h-2.7ZM466.13 194.90h2.7v2.90h-2.7ZM469.43 197.80h2.7v6.00h-2.7ZM476.02 193.90h2.7v30.80h-2.7ZM479.32 224.70h2.7v9.90h-2.7ZM482.62 234.60h2.7v23.90h-2.7ZM495.80 251.10h2.7v11.30h-2.7ZM515.59 110.90h2.7v17.90h-2.7ZM518.88 128.80h2.7v20.90h-2.7ZM528.77 119.90h2.7v7.90h-2.7ZM538.66 121.90h2.7v30.80h-2.7ZM541.96 152.70h2.7v10.90h-2.7ZM545.26 163.60h2.7v13.90h-2.7ZM555.15 155.90h2.7v12.90h-2.7ZM558.45 168.80h2.7v35.80h-2.7ZM561.74 204.60h2.7v17.90h-2.7ZM568.34 198.60h2.7v18.30h-2.7ZM571.63 216.90h2.7v19.90h-2.7ZM574.93 236.80h2.7v12.90h-2.7ZM591.41 228.80h2.7v5.00h-2.7ZM594.71 232.80h2.7v3.00h-2.7ZM598.01 235.80h2.7v4.00h-2.7ZM604.60 230.80h2.7v8.00h-2.7ZM607.90 238.80h2.7v12.90h-2.7ZM611.20 251.70h2.7v20.90h-2.7ZM614.49 272.60h2.7v15.20h-2.7ZM617.79 285.80h2.7v3.00h-2.7ZM624.38 274.90h2.7v15.90h-2.7ZM630.98 282.80h2.7v7.00h-2.7ZM634.27 289.80h2.7v49.90h-2.7ZM640.87 335.70h2.7v12.90h-2.7ZM650.76 327.80h2.7v8.90h-2.7ZM657.35 267.90h2.7v71.80h-2.7ZM667.24 331.70h2.7v6.00h-2.7ZM670.54 337.70h2.7v7.20h-2.7ZM673.84 344.90h2.7v4.90h-2.7ZM677.13 349.80h2.7v19.90h-2.7ZM680.43 369.70h2.7v15.90h-2.7ZM690.32 369.70h2.7v6.00h-2.7ZM700.21 351.80h2.7v18.90h-2.7ZM706.81 366.70h2.7v5.00h-2.7ZM713.40 351.80h2.7v15.90h-2.7ZM733.18 336.90h2.7v11.90h-2.7ZM739.78 345.80h2.7v17.90h-2.7ZM743.07 363.70h2.7v10.00h-2.7ZM756.26 369.70h2.7v16.90h-2.7ZM759.56 386.60h2.7v1.00h-2.7ZM766.15 376.70h2.7v4.90h-2.7ZM769.45 381.60h2.7v25.90h-2.7ZM776.04 406.70h2.7v3.60h-2.7ZM782.63 383.70h2.7v11.90h-2.7ZM792.53 357.80h2.7v8.00h-2.7ZM799.12 363.80h2.7v6.00h-2.7ZM809.01 352.90h2.7v2.50h-2.7ZM815.60 343.70h2.7v4.90h-2.7ZM818.90 347.70h2.7v2.90h-2.7ZM832.09 319.80h2.7v3.00h-2.7ZM835.39 322.80h2.7v4.00h-2.7ZM838.68 325.80h2.7v3.00h-2.7ZM841.98 327.80h2.7v3.00h-2.7ZM845.28 328.80h2.7v3.90h-2.7ZM855.17 322.80h2.7v6.00h-2.7ZM858.46 327.80h2.7v3.90h-2.7ZM861.76 330.80h2.7v5.90h-2.7ZM884.84 270.80h2.7v8.00h-2.7ZM894.73 258.90h2.7v13.90h-2.7ZM898.03 272.80h2.7v14.90h-2.7ZM901.32 287.70h2.7v3.00h-2.7ZM904.62 290.70h2.7v4.00h-2.7ZM911.21 279.80h2.7v12.90h-2.7Z" fill="#e8263b"/>

<!-- TradingView logo -->
<defs><filter id="bl" x="-20%" y="-50%" width="140%" height="200%"><feGaussianBlur stdDeviation="1.6"/></filter></defs>

<g transform="translate(9.2 449.3) scale(0.437)" fill="#131722" stroke="#ffffff" stroke-width="3.2" paint-order="stroke" stroke-linejoin="round">
<path d="M14 22H7V11H0V4h14v18zM28 22h-8l7.5-18h8L28 22z"/><circle cx="20" cy="8" r="4"/>
</g>
<text x="29.2" y="458.9" font-family="Liberation Sans" font-weight="bold" font-size="11.1" fill="#131722" stroke="#ffffff" stroke-width="1.3" paint-order="stroke" stroke-linejoin="round" textLength="66" lengthAdjust="spacingAndGlyphs">TradingView</text>
<!-- event icons -->
<circle cx="926.1" cy="459.7" r="5.1" fill="#ffffff" stroke="#a04fd0" stroke-width="1"/>
<path d="M928 456.3 L924.6 460.3 H926.5 L924.6 463.2 L928.4 458.9 H926.5 Z" fill="#7a2cc0"/>
<path d="M919.3 458.6 l2.1 2.1 l-2.1 2.1 l-2.1 -2.1 Z" fill="#5b45f0" stroke="#ffffff" stroke-width="0.5"/>
<circle cx="942.5" cy="459.7" r="5.2" fill="#ffffff" stroke="#e53950" stroke-width="0.9"/>
<circle cx="940.1" cy="459.7" r="5.4" fill="#ffffff" stroke="#e53950" stroke-width="0.9"/>
<path d="M935.9 459.3 a4.3 4.3 0 0 1 4.3 -3.9 v3.9 Z" fill="#3a8fd8"/>
<rect x="940.4" y="458.5" width="3.6" height="1.4" fill="#e53950"/>
<rect x="936.8" y="461.3" width="6.4" height="1.3" fill="#e53950"/>
<!-- gear -->
<path d="M980 471 L983.4 472.95 L983.4 476.85 L980 478.8 L976.6 476.85 L976.6 472.95 Z" fill="none" stroke="#2a2e39" stroke-width="0.9" stroke-linejoin="round"/>
<circle cx="980" cy="474.9" r="1.1" fill="#4a4e59"/>
<!-- calendar -->
<path d="M160.5 492 V489.3 H168.3 V497.2 H163.5 M160.5 491.6 H168.3 M162.5 488.2 V490 M166.3 488.2 V490" fill="none" stroke="#2a2e39" stroke-width="0.8"/>
<path d="M158 494.3 H163.2 M161.4 492.6 L163.2 494.3 L161.4 496" fill="none" stroke="#2a2e39" stroke-width="0.8"/>
<line x1="150.5" y1="487.5" x2="150.5" y2="503" stroke="#e0e3eb" stroke-width="0.6"/>
<line x1="956" y1="2" x2="956" y2="467" stroke="#f0f1f3" stroke-width="0.8"/>
<rect x="2.2" y="481.6" width="998" height="2.6" fill="#f2f2f3"/>
</svg>
<div class="pl" style="top:434.80px">90.00</div><div class="pl" style="top:415.70px">100.00</div><div class="pl" style="top:396.60px">110.00</div><div class="pl" style="top:377.50px">120.00</div><div class="pl" style="top:358.40px">130.00</div><div class="pl" style="top:339.30px">140.00</div><div class="pl" style="top:320.20px">150.00</div><div class="pl" style="top:301.10px">160.00</div><div class="pl" style="top:243.80px">190.00</div><div class="pl" style="top:224.70px">200.00</div><div class="pl" style="top:205.60px">210.00</div><div class="pl" style="top:186.50px">220.00</div><div class="pl" style="top:167.40px">230.00</div><div class="pl" style="top:148.30px">240.00</div><div class="pl" style="top:129.20px">250.00</div><div class="pl" style="top:110.10px">260.00</div><div class="pl" style="top:91.00px">270.00</div><div class="pl" style="top:71.90px">280.00</div><div class="pl" style="top:52.80px">290.00</div><div class="pl" style="top:33.70px">300.00</div><div class="pl" style="top:14.60px">310.00</div>
<div class="box" style="top:254px;height:16.8px;background:#0a8d6e"><div>184.58</div><div>19:48:30</div></div>
<div class="box" style="top:270.8px;height:8.7px;width:30px;background:#000">183.48</div>
<div class="box" style="top:279.5px;height:9.9px;width:30px;background:#ff06f4;line-height:9.9px">181.28</div>
<div class="box" style="top:324.5px;height:8px;width:30px;background:#05f6ee;color:#131722;line-height:8px">147.81</div>
<div class="box" style="top:456px;height:8.4px;width:35px;background:#0a8d6e;line-height:8.4px">334.03K</div>
<div class="tl" style="left:55px">Sep</div>
<div class="tl" style="left:154px">Oct</div>
<div class="tl" style="left:256.4px">Nov</div>
<div class="tl" style="left:355.2px">Dec</div>
<div class="tl" style="left:457.4px;font-weight:bold">2025</div>
<div class="tl" style="left:559.5px">Feb</div>
<div class="tl" style="left:652px">Mar</div>
<div class="tl" style="left:754.6px">Apr</div>
<div class="tl" style="left:853.6px">May</div>
<div class="tl" style="left:955px">Jun</div>
<div class="tb" style="left:11px">1D</div>
<div class="tb" style="left:27px">5D</div>
<div class="tb" style="left:44px">1M</div>
<div class="tb" style="left:62px">3M</div>
<div class="tb" style="left:80px">6M</div>
<div class="tb" style="left:98px">YTD</div>
<div class="tb" style="left:120px">1Y</div>
<div class="tb" style="left:137px">All</div>
<div class="abs" style="left:944px;top:489px;font-size:8.1px;line-height:9px;color:#2a2e39">04:11:30 UTC</div>
<!-- legend -->
<div class="lg" style="left:3px;top:3px;width:377px;height:14px"></div>
<div class="lg" style="left:3px;top:17px;width:99px;height:23px"></div>
<div class="lg" style="left:3px;top:40px;width:72px;height:13px"></div>
<div class="lg" style="left:3px;top:53px;width:239px;height:13.5px"></div>

<div class="abs" style="left:7.2px;top:18.9px;width:35.5px;height:18.7px;border:1px solid #eba3ad;border-radius:3px;background:#fff"></div>
<div class="abs" style="left:64.1px;top:18.9px;width:35.8px;height:18.7px;border:1px solid #a3aeea;border-radius:3px;background:#fff"></div>
<div class="abs" style="left:7.2px;top:20.6px;width:35.5px;text-align:center;font-size:7.4px;line-height:8px;color:#df4660">184.58</div>
<div class="abs" style="left:7.2px;top:28.9px;width:35.5px;text-align:center;font-size:6.2px;line-height:7px;color:#e87585;letter-spacing:0.3px">SELL</div>
<div class="abs" style="left:64.1px;top:20.6px;width:35.8px;text-align:center;font-size:7.4px;line-height:8px;color:#4a5cc9">184.60</div>
<div class="abs" style="left:64.1px;top:28.9px;width:35.8px;text-align:center;font-size:6.2px;line-height:7px;color:#7686d6;letter-spacing:0.3px">BUY</div>
<div class="abs" style="left:47.3px;top:24.6px;font-size:6.3px;line-height:8px;color:#50535e">0.02</div>
<div class="abs" style="left:7.2px;top:68px;width:16.2px;height:11.3px;background:rgba(255,255,255,0.85);border-radius:1.5px"></div>
<svg style="left:0;top:0" width="200" height="90"><!-- solana icon -->
<defs><linearGradient id="sg" x1="0" y1="0" x2="0" y2="1"><stop offset="0" stop-color="#33d4c0"/><stop offset="1" stop-color="#8a45e0"/></linearGradient></defs>
<circle cx="12" cy="10.05" r="4.9" fill="#0b0b1a"/>
<path d="M9.8 8.2h4.6l-0.6 0.8h-4.6z M9.2 9.7h4.6l0.6 0.8h-4.6z M9.8 11.2h4.6l-0.6 0.8h-4.6z" fill="url(#sg)" stroke="url(#sg)" stroke-width="0.4"/>
<!-- live dot -->
<circle cx="176.6" cy="9.8" r="3.8" fill="#bff0e2"/>
<circle cx="176.6" cy="9.8" r="2.2" fill="#0b7d5e"/>
<path d="M11.2 74.8 L13.6 72.5 L16 74.8" fill="none" stroke="#3a3d45" stroke-width="1.1" stroke-linecap="round" stroke-linejoin="round"/></svg>
<div class="abs" style="left:19.5px;top:5.1px;font-size:8.42px;line-height:10px;color:#131722">Solana / U.S. Dollar · 1D · COINBASE</div>
<div class="ohlc" style="left:190.2px;color:#131722">O</div><div class="ohlc" style="left:196.8px">179.73</div>
<div class="ohlc" style="left:223.8px;color:#131722">H</div><div class="ohlc" style="left:230.2px">185.54</div>
<div class="ohlc" style="left:257.2px;color:#131722">L</div><div class="ohlc" style="left:262.8px">179.30</div>
<div class="ohlc" style="left:289.6px;color:#131722">C</div><div class="ohlc" style="left:296px">184.58</div>
<div class="ohlc" style="left:323.5px">+4.86 (+2.70%)</div>
<div class="abs" style="left:7.7px;top:42.5px;font-size:7.3px;line-height:9px;color:#131722">Vol · SOL <span style="color:#3aab95;margin-left:2px">334.03K</span></div>
<div class="abs ind" style="left:7.7px">Mario M_MA 50 &amp; MA 200</div>
<div class="abs ind" style="left:97.6px;color:#787b86">sma close 50 200</div>
<div class="abs ind" style="left:162.4px;color:#5fdede">147.81</div>
<div class="abs ind" style="left:190px;color:#e040fb">181.28</div>
<svg style="left:0;top:0" width="250" height="70"><g fill="none" stroke="#3c3f4a" stroke-width="0.65"><circle cx="219.6" cy="60.3" r="2"/><circle cx="228" cy="60.3" r="2"/><circle cx="236.4" cy="60.3" r="2"/><path d="M217.4 62.5 L221.8 58.1 M225.8 62.5 L230.2 58.1 M234.2 62.5 L238.6 58.1"/></g></svg>
</div></body></html>
